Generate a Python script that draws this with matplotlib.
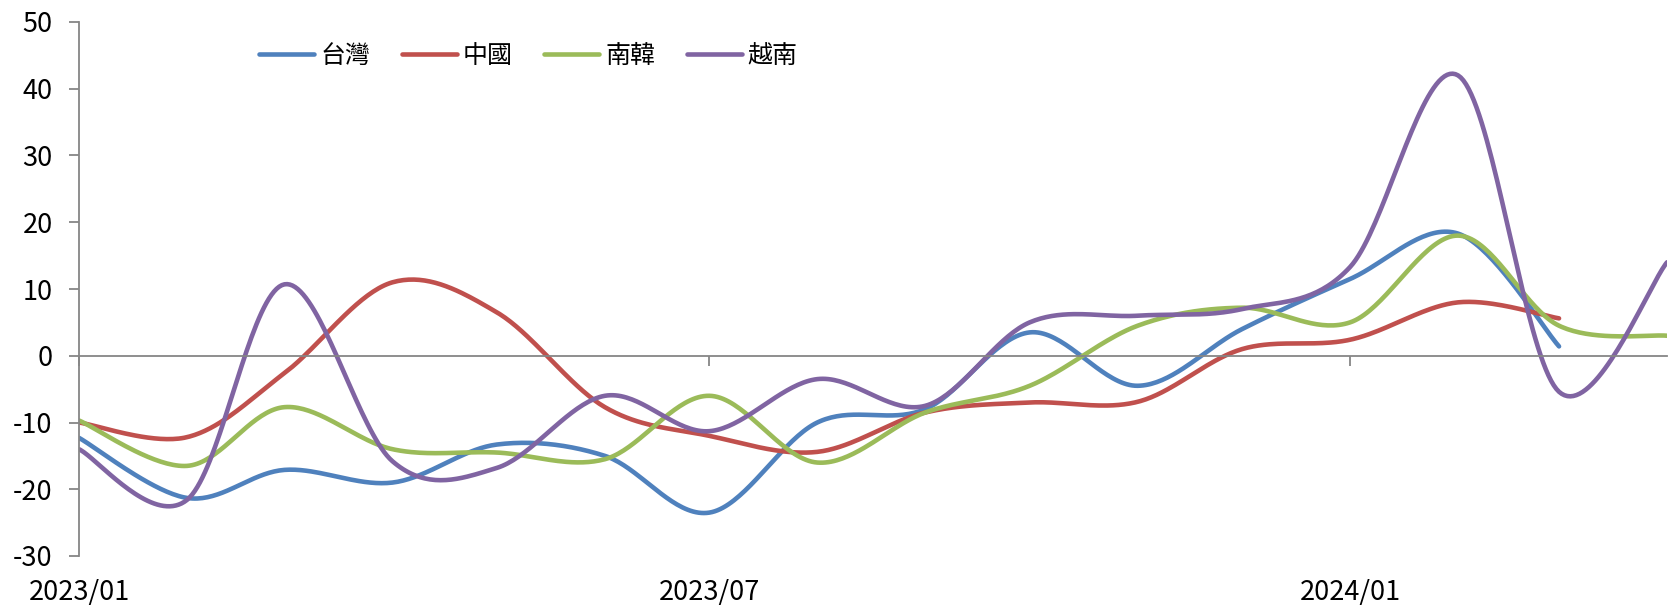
import numpy as np
import pandas as pd
import matplotlib
matplotlib.use("Agg")
import matplotlib.pyplot as plt
import matplotlib.dates as mdates
import matplotlib.transforms as mtransforms

plt.rcParams["font.family"] = ["Noto Sans CJK TC", "DejaVu Sans"]
plt.rcParams["axes.unicode_minus"] = False

months = pd.date_range("2023-01-01", "2024-04-01", freq="MS")

taiwan = [-12.3, -21.3, -17.1, -19.0, -13.3, -15.0, -23.5, -10.0, -8.0, 3.5, -4.5, 4.0, 11.5, 18.3, 1.4]
china = [-10.0, -12.2, -2.6, 11.0, 6.5, -7.7, -12.0, -14.4, -8.5, -7.0, -6.9, 1.0, 2.4, 8.0, 5.6]
korea = [-9.7, -16.5, -7.7, -14.0, -14.5, -15.5, -6.0, -16.0, -8.5, -4.5, 4.5, 7.2, 5.0, 18.0, 4.5, 3.0]
vietnam = [-14.0, -21.6, 10.7, -15.8, -16.8, -6.0, -11.3, -3.5, -7.5, 5.0, 6.0, 7.0, 13.3, 42.0, -5.4, 14.0]

series = [
    ("台灣", taiwan, "#4F81BD"),
    ("中國", china, "#C0504D"),
    ("南韓", korea, "#9BBB59"),
    ("越南", vietnam, "#8064A2"),
]

tick_dates = ["2023-01-01", "2023-07-01", "2024-01-01"]
tick_labels = ["2023/01", "2023/07", "2024/01"]


def smooth(x, y, steps=40):
    # Bezier segments with Catmull-Rom style control points (spreadsheet "smoothed line")
    x = np.asarray(x, float)
    y = np.asarray(y, float)
    px = np.concatenate([[x[0]], x, [x[-1]]])
    py = np.concatenate([[y[0]], y, [y[-1]]])
    t = np.linspace(0, 1, steps)[:, None]
    out_x, out_y = [], []
    for i in range(1, len(px) - 2):
        p0 = np.array([px[i], py[i]])
        p3 = np.array([px[i + 1], py[i + 1]])
        c1 = p0 + (p3 - np.array([px[i - 1], py[i - 1]])) / 6
        c2 = p3 - (np.array([px[i + 2], py[i + 2]]) - p0) / 6
        pts = ((1 - t) ** 3) * p0 + 3 * ((1 - t) ** 2) * t * c1 + 3 * (1 - t) * t ** 2 * c2 + t ** 3 * p3
        out_x.append(pts[:, 0])
        out_y.append(pts[:, 1])
    return np.concatenate(out_x), np.concatenate(out_y)


fig = plt.figure(figsize=(16.74, 6.07), dpi=100)
ax = fig.add_axes([79 / 1674, 1 - 556 / 607, (1667 - 79) / 1674, (556 - 22) / 607])

xnum = mdates.date2num(months)
for name, vals, color in series:
    sx, sy = smooth(xnum[:len(vals)], vals)
    ax.plot(sx, sy, color=color, linewidth=3.3, solid_capstyle="round", label=name)

ax.set_xlim(xnum[0], xnum[-1])
ax.set_ylim(-30, 50)
ax.set_yticks(np.arange(-30, 51, 10))
ax.set_yticklabels([str(v) for v in range(-30, 51, 10)])

axis_gray = "#868686"
for side in ["top", "right"]:
    ax.spines[side].set_visible(False)
ax.spines["left"].set_color(axis_gray)
ax.spines["left"].set_linewidth(1.3)
ax.spines["bottom"].set_position(("data", 0))
ax.spines["bottom"].set_color(axis_gray)
ax.spines["bottom"].set_linewidth(1.3)

ax.tick_params(axis="y", direction="out", length=7, width=1.3, color=axis_gray,
               labelsize=19.5, pad=12)
ax.set_xticks(mdates.date2num(pd.to_datetime(tick_dates)))
ax.tick_params(axis="x", direction="out", length=7, width=1.3, color=axis_gray,
               labelbottom=False)

trans = mtransforms.blended_transform_factory(ax.transData, ax.transAxes)
for d, lab in zip(tick_dates, tick_labels):
    ax.text(mdates.date2num(pd.Timestamp(d)), -0.069, lab, transform=trans,
            ha="center", va="center", fontsize=19.5, color="black")

fig.legend(loc="center left", bbox_to_anchor=(259 / 1674, 1 - 56 / 607), ncol=4,
           frameon=False, fontsize=18, handlelength=2.2, handletextpad=0.25,
           columnspacing=1.25, borderpad=0, borderaxespad=0)

fig.savefig("out.png", dpi=100)
